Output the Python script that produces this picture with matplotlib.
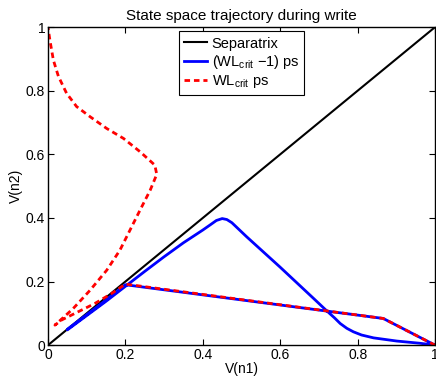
import matplotlib.pyplot as plt

plt.rcParams["font.family"] = ["Liberation Sans", "DejaVu Sans"]
plt.rcParams["mathtext.fontset"] = "custom"
plt.rcParams["mathtext.rm"] = "Liberation Sans"

# separatrix
sep_x = [0, 1]
sep_y = [0, 1]

# (WL_crit - 1) ps trajectory
blue_x = [1.0, 0.866, 0.2, 0.15, 0.1, 0.05, 0.05, 0.1, 0.15, 0.2, 0.25, 0.3, 0.35, 0.4,
          0.42, 0.435, 0.45, 0.462, 0.475, 0.513, 0.599, 0.686, 0.72, 0.74, 0.755, 0.772,
          0.789, 0.81, 0.841, 0.901, 0.961, 1.0]
blue_y = [0.0, 0.084, 0.19, 0.142, 0.096, 0.05, 0.048, 0.093, 0.138, 0.185, 0.232, 0.278, 0.322, 0.362,
          0.379, 0.392, 0.398, 0.395, 0.385, 0.341, 0.246, 0.147, 0.108, 0.086, 0.068, 0.053,
          0.042, 0.032, 0.023, 0.013, 0.006, 0.0]

# WL_crit ps trajectory
red_x = [1.0, 0.866, 0.2, 0.165, 0.121, 0.078, 0.035, 0.018, 0.065, 0.109, 0.152, 0.186, 0.212,
         0.238, 0.264, 0.281, 0.276, 0.238, 0.195, 0.152, 0.109, 0.074, 0.048, 0.027, 0.014, 0.005, 0.0]
red_y = [0.0, 0.084, 0.192, 0.163, 0.131, 0.105, 0.079, 0.063, 0.115, 0.173, 0.236, 0.299, 0.362,
         0.425, 0.487, 0.537, 0.566, 0.608, 0.650, 0.681, 0.718, 0.750, 0.792, 0.845, 0.896, 0.959, 1.0]

fig = plt.figure(figsize=(4.36, 3.81), dpi=100)
ax = fig.add_axes([0.110, 0.094, 0.888, 0.835])

ax.plot(sep_x, sep_y, color="black", lw=1.5, label="Separatrix")
ax.plot(blue_x, blue_y, color="blue", lw=2.0, label=r"(WL$_\mathregular{crit}$ $-$1) ps")
ax.plot(red_x, red_y, color="red", lw=2.0, dashes=(2.0, 1.4), label=r"WL$_\mathregular{crit}$ ps")

ax.set_xlim(0, 1)
ax.set_ylim(0, 1)
ax.set_xticks([0, 0.2, 0.4, 0.6, 0.8, 1])
ax.set_xticklabels(["0", "0.2", "0.4", "0.6", "0.8", "1"])
ax.set_yticks([0, 0.2, 0.4, 0.6, 0.8, 1])
ax.set_yticklabels(["0", "0.2", "0.4", "0.6", "0.8", "1"])
ax.tick_params(direction="in", top=True, right=True, labelsize=10, length=4, pad=2)
for s in ax.spines.values():
    s.set_linewidth(1.0)

ax.set_xlabel("V(n1)", fontsize=10, labelpad=0)
ax.set_ylabel("V(n2)", fontsize=10, labelpad=2)
ax.set_title("State space trajectory during write", fontsize=11, pad=5)

leg = ax.legend(loc="upper center", fontsize=10.5, fancybox=False, framealpha=1,
                edgecolor="black", borderpad=0.35, labelspacing=0.15, handlelength=1.6,
                handletextpad=0.3, borderaxespad=0.3)
leg.get_frame().set_linewidth(0.8)

fig.savefig("out.png", dpi=100)
